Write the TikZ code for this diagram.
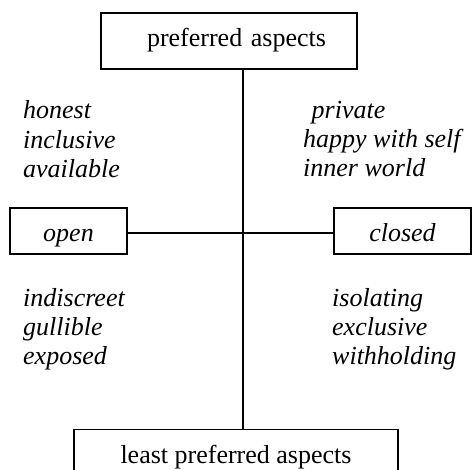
\documentclass[tikz,border=0pt]{standalone}
\usepackage{fontspec}
\setmainfont{Liberation Serif}
\begin{document}
\begin{tikzpicture}[x=1pt,y=-1pt,
  boxnode/.style={draw, line width=1.5pt, inner sep=0pt, font=\fontsize{26}{26}\selectfont},
  word/.style={inner sep=0pt, anchor=base west, font=\fontsize{26}{26}\selectfont\itshape},
  link/.style={line width=1.3pt}]
\useasboundingbox (0,0) rectangle (472,470);
% boxes
\node[boxnode, text width=194pt, align=right, inner xsep=31pt, minimum height=56pt,
      text height=20pt, text depth=8pt] (top) at (229,40.8) {preferred aspects};
\node[boxnode, minimum width=117pt, minimum height=46pt, text height=21pt, text depth=0pt,
      font=\fontsize{26}{26}\selectfont\itshape] (open) at (68.5,231) {open};
\node[boxnode, minimum width=137pt, minimum height=46pt, text height=21pt, text depth=0pt,
      font=\fontsize{26}{26}\selectfont\itshape] (closed) at (402.5,231) {closed};
\node[boxnode, anchor=north, minimum width=324pt, text height=34pt, text depth=14pt] (bottom) at (236,429) {least preferred aspects};
% connectors
\coordinate (c) at (243,233);
\draw[link] (top.south -| c) -- (bottom.north -| c);
\draw[link] (open.east |- c) -- (closed.west |- c);
% word lists
\node[word] (w1) at (23,119) {honest};
\node[word] (w2) at (23,148.5) {inclusive};
\node[word] (w3) at (23,178) {available};
\node[word] (w4) at (311.5,118.5) {private};
\node[word] (w5) at (303,147.5) {happy with self};
\node[word] (w6) at (303,177) {inner world};
\node[word] (w7) at (23,307) {indiscreet};
\node[word] (w8) at (23,336) {gullible};
\node[word] (w9) at (23,365) {exposed};
\node[word] (w10) at (332,307) {isolating};
\node[word] (w11) at (332,336) {exclusive};
\node[word] (w12) at (332,365) {withholding};
\end{tikzpicture}
\end{document}
